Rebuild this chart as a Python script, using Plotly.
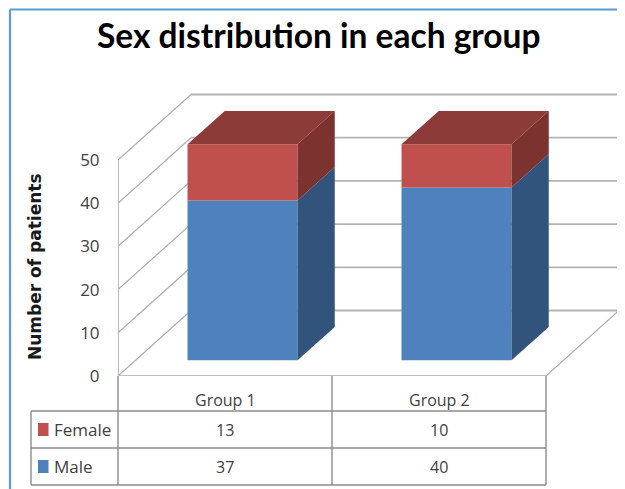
import plotly.graph_objects as go

# ---- data ----
groups = ["Group 1", "Group 2"]
series_names = ["Male", "Female"]
male = [37, 40]
female = [13, 10]
y_ticks = [0, 10, 20, 30, 40, 50]
title_text = "Sex distribution in each group"
y_title = "Number of patients"

# ---- styles / geometry (screen pixels; the page body adds an 8px margin) ----
PAGE = 8
W, H = 625, 489
L, R, T, B = 118, 546, 80, 376
PX_X = (R - L) / 2            # px per category
PX_Y = 4.32                   # px per value unit
DEPTH_X = 73 / PX_X           # wall depth in axis units
DEPTH_Y = 65.5 / PX_Y
BAR_NEAR, BAR_FAR = 0.24, 0.75  # bar front/back as a share of wall depth
BAR_W = 110 / PX_X
GRID = "#ababab"
BLUE, BLUE_SIDE = "#4F81BD", "#32547C"
RED, RED_SIDE, RED_TOP = "#C0504D", "#7C322F", "#8C3B39"
BORDER = "#5B9BD5"
TXT = "#404040"
FONT = "Open Sans"

x_max = (W - L) / PX_X
y_max = (B - T) / PX_Y


def px(x):
    return (x - L) / (W - L)


def py(y):
    return (B - y) / (B - T)


fig = go.Figure()

near_x, near_y = DEPTH_X * BAR_NEAR, DEPTH_Y * BAR_NEAR
far_x, far_y = DEPTH_X * BAR_FAR, DEPTH_Y * BAR_FAR
centers = [i + 0.5 + near_x for i in range(len(groups))]

# Front faces
fig.add_trace(go.Bar(x=centers, y=male, base=[near_y] * len(male), width=BAR_W,
                     marker=dict(color=BLUE, line_width=0), name=series_names[0]))
fig.add_trace(go.Bar(x=centers, y=female, base=[near_y + m for m in male], width=BAR_W,
                     marker=dict(color=RED, line_width=0), name=series_names[1]))

# Side and top faces
depth_x = far_x - near_x
depth_y = far_y - near_y
for c, m, f in zip(centers, male, female):
    xr = c + BAR_W / 2
    xl = c - BAR_W / 2
    b0, b1, b2 = near_y, near_y + m, near_y + m + f
    for lo, hi, col in [(b0, b1, BLUE_SIDE), (b1, b2, RED_SIDE)]:
        fig.add_trace(go.Scatter(
            x=[xr, xr + depth_x, xr + depth_x, xr, xr],
            y=[lo, lo + depth_y, hi + depth_y, hi, lo],
            mode="lines", fill="toself", fillcolor=col, line=dict(width=0), hoverinfo="skip"))
    fig.add_trace(go.Scatter(
        x=[xl, xr, xr + depth_x, xl + depth_x, xl],
        y=[b2, b2, b2 + depth_y, b2 + depth_y, b2],
        mode="lines", fill="toself", fillcolor=RED_TOP, line=dict(width=0), hoverinfo="skip"))

shapes = []


def line(x0, y0, x1, y1, width=1.2, color=GRID, xref="x", yref="y"):
    shapes.append(dict(type="line", x0=x0, y0=y0, x1=x1, y1=y1, xref=xref, yref=yref,
                       layer="below", line=dict(color=color, width=width)))


n = len(groups)
for t in y_ticks:
    line(DEPTH_X, t + DEPTH_Y, n + DEPTH_X, t + DEPTH_Y, width=1.8, color="#b4b4b4")   # back wall
    line(0, t, DEPTH_X, t + DEPTH_Y)                                                   # side wall
line(0, 0, 0, y_ticks[-1], width=1.8, color="#b4b4b4")     # front vertical
line(0, 0, n, 0, width=2.2, color="#c0c0c0")               # floor front
line(n, 0, n + DEPTH_X, DEPTH_Y)                           # floor right

# Data table grid
TX0, TY1, TY2, TY3 = 31, 411, 448, 485
for yy in (TY1, TY2, TY3):
    line(px(TX0), py(yy), px(R), py(yy), width=1.4, color="#8c8c8c", xref="paper", yref="paper")
line(px(TX0), py(TY1), px(TX0), py(TY3), width=1.4, color="#8c8c8c", xref="paper", yref="paper")
for i in range(n + 1):
    xx = L + i * PX_X
    line(px(xx), py(B), px(xx), py(TY3), width=1.4, color="#8c8c8c", xref="paper", yref="paper")

# Legend keys in the table
for yc, col in [((TY1 + TY2) / 2, RED), ((TY2 + TY3) / 2, BLUE)]:
    shapes.append(dict(type="rect", xref="paper", yref="paper",
                       x0=px(38), x1=px(48.5), y0=py(yc + 6.5), y1=py(yc - 6.5),
                       fillcolor=col, line=dict(width=0), layer="above"))

# Outer frame
line(px(10), py(9.5), px(W), py(9.5), width=2.2, color=BORDER, xref="paper", yref="paper")
line(px(10), py(9.5), px(10), py(H), width=2.2, color=BORDER, xref="paper", yref="paper")

annotations = []


def text(x, y, s, size=16, color=TXT, **kw):
    annotations.append(dict(x=px(x), y=py(y), xref="paper", yref="paper", text=s, showarrow=False,
                            font=dict(size=size, color=color, family=kw.pop("family", FONT)),
                            xanchor=kw.pop("xanchor", "center"), yanchor="middle", **kw))


rows = [("Female", female, (TY1 + TY2) / 2), ("Male", male, (TY2 + TY3) / 2)]
for i, g in enumerate(groups):
    xc = L + (i + 0.5) * PX_X
    text(xc, 400, g)
    for label, vals, yc in rows:
        text(xc, yc, str(vals[i]))
for label, vals, yc in rows:
    text(52, yc, label, size=17, xanchor="left")

text(319, 35, "<b>" + title_text + "</b>", size=33.5, color="#000000", family="Lato")
text(35, 267, "<b>" + y_title + "</b>", size=17, color="#1a1a1a", family="DejaVu Sans", textangle=-90)

fig.update_layout(
    width=W - PAGE, height=H - PAGE, autosize=False,
    margin=dict(l=L - PAGE, r=0, t=T - PAGE, b=H - B, autoexpand=False),
    paper_bgcolor="white", plot_bgcolor="rgba(0,0,0,0)",
    showlegend=False, barmode="overlay",
    shapes=shapes, annotations=annotations,
    xaxis=dict(range=[0, x_max], visible=False, fixedrange=True),
    yaxis=dict(range=[0, y_max], tickvals=y_ticks, showgrid=False, zeroline=False,
               showline=False, ticks="outside", ticklen=14, tickcolor="rgba(0,0,0,0)",
               tickfont=dict(size=17, color=TXT, family=FONT), fixedrange=True),
)
fig.write_html("out.html")
